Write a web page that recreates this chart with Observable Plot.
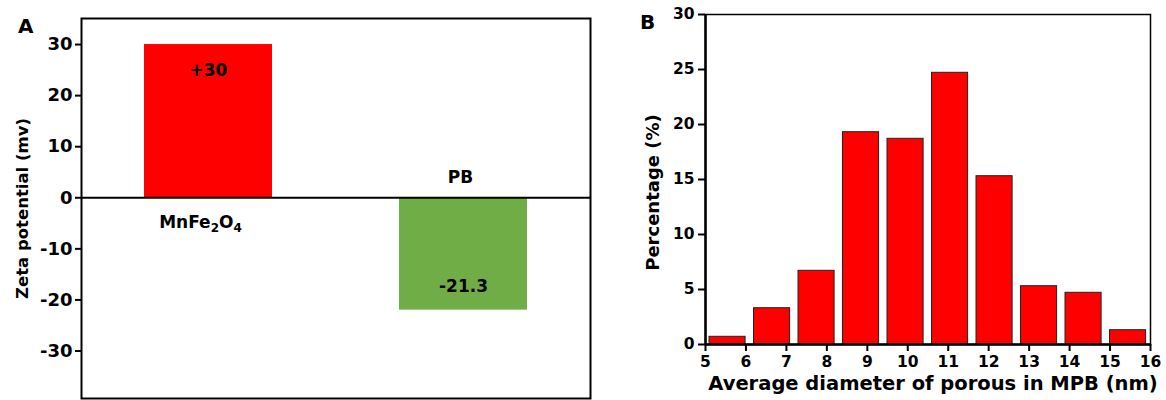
<!DOCTYPE html>
<html>
<head>
<meta charset="utf-8">
<script src="https://cdn.jsdelivr.net/npm/d3@7"></script>
<script src="https://cdn.jsdelivr.net/npm/@observablehq/plot@0.6"></script>
<style>
  body { margin: 0; background: #fff; }
  #wrap { position: relative; width: 1166px; height: 400px; overflow: hidden; font-family: "DejaVu Sans", sans-serif; }
  #wrap svg { position: absolute; top: 0; }
  .panel-letter { position: absolute; font-family: "DejaVu Sans", sans-serif; font-weight: bold; font-size: 20px; line-height: 1; }
</style>
</head>
<body>
<div id="wrap">
  <div class="panel-letter" style="left:18px; top:16px;">A</div>
  <div class="panel-letter" style="left:640px; top:12px;">B</div>
</div>
<script>
// Panel A: zeta potential
const zetaNames = ["MnFe2O4", "PB"];
const zetaValues = [30, -22];
const zetaLabels = ["+30", "-21.3"];
const zetaColors = ["#ff0000", "#70ad47"];
const zetaTicks = [-30, -20, -10, 0, 10, 20, 30];

// Panel B: pore diameter distribution
const binEdges = [5, 6.1, 7.2, 8.3, 9.4, 10.5, 11.6, 12.7, 13.8, 14.9, 16];
const percentages = [0.7, 3.3, 6.7, 19.3, 18.7, 24.7, 15.3, 5.3, 4.7, 1.3];
const diameterTicks = [5, 6, 7, 8, 9, 10, 11, 12, 13, 14, 15, 16];
const percentTicks = [0, 5, 10, 15, 20, 25, 30];

const zetaData = zetaNames.map((name, i) => ({name, value: zetaValues[i], label: zetaLabels[i]}));
const binData = percentages.map((pct, i) => ({lo: binEdges[i], hi: binEdges[i + 1], pct}));

const font = {fontFamily: "DejaVu Sans", fontWeight: "bold", background: "transparent", color: "#000"};

const plotA = Plot.plot({
  width: 600, height: 400,
  marginLeft: 81, marginRight: 10, marginTop: 18, marginBottom: 2,
  style: font,
  x: {domain: zetaNames, paddingInner: 0.5, paddingOuter: 0.246, axis: null},
  y: {domain: [-39.3, 35.1], axis: null},
  color: {domain: zetaNames, range: zetaColors},
  marks: [
    Plot.barY(zetaData, {x: "name", y: "value", fill: "name"}),
    Plot.ruleY([0], {stroke: "#000", strokeWidth: 2}),
    Plot.frame({stroke: "#000", strokeWidth: 2}),
    Plot.axisY(zetaTicks, {anchor: "left", tickSize: 6, tickPadding: 3, strokeWidth: 2, fontSize: 18, label: null, tickFormat: d => String(d)}),
    Plot.text(zetaData.filter(d => d.value > 0), {x: "name", y: "value", text: "label", dy: 26, fontSize: 17}),
    Plot.text(zetaData.filter(d => d.value < 0), {x: "name", y: "value", text: "label", dy: -24, fontSize: 17}),
    Plot.text(zetaData.filter(d => d.value > 0), {x: "name", y: () => 0, text: "name", dy: 25, dx: -8, fontSize: 17}),
    Plot.text(zetaData.filter(d => d.value < 0), {x: "name", y: () => 0, text: "name", dy: -20, dx: -3, fontSize: 17}),
    Plot.text(["Zeta potential (mv)"], {frameAnchor: "left", textAnchor: "middle", rotate: -90, dx: -59, fontSize: 16.5})
  ]
});

const plotB = Plot.plot({
  width: 566, height: 400,
  marginLeft: 105, marginRight: 16, marginTop: 14, marginBottom: 56,
  style: font,
  x: {domain: [5, 16], axis: null},
  y: {domain: [0, 30], axis: null},
  marks: [
    Plot.rectY(binData, {x1: "lo", x2: "hi", y: "pct", fill: "#ff0000", stroke: "#222", strokeWidth: 1, insetLeft: 4, insetRight: 4.4}),
    Plot.frame({stroke: "#000", strokeWidth: 1.5}),
    Plot.ruleX([5], {stroke: "#000", strokeWidth: 2.5}),
    Plot.ruleY([0], {stroke: "#000", strokeWidth: 2.5}),
    Plot.axisX(diameterTicks, {anchor: "bottom", tickSize: 7, tickPadding: 4, strokeWidth: 2, fontSize: 15.5, label: null, tickFormat: d => String(d)}),
    Plot.axisY(percentTicks, {anchor: "left", tickSize: 7, tickPadding: 4, strokeWidth: 2, fontSize: 15.5, label: null, tickFormat: d => String(d)}),
    Plot.text(["Percentage (%)"], {frameAnchor: "left", textAnchor: "middle", rotate: -90, dx: -52, dy: 13, fontSize: 18}),
    Plot.text(["Average diameter of porous in MPB (nm)"], {frameAnchor: "bottom", dx: 5, dy: 45, fontSize: 19.5})
  ]
});

// Render chemical subscripts (MnFe2O4) with real tspans
plotA.querySelectorAll("text").forEach(t => {
  if (t.textContent === "MnFe2O4") {
    t.textContent = "";
    const parts = [["MnFe", 0, null], ["2", 4, 12], ["O", -4, null], ["4", 4, 12]];
    parts.forEach(([s, dy, fs]) => {
      const ts = document.createElementNS("http://www.w3.org/2000/svg", "tspan");
      ts.textContent = s;
      if (dy) ts.setAttribute("dy", dy);
      if (fs) ts.setAttribute("font-size", fs);
      t.appendChild(ts);
    });
  }
});

plotA.style.left = "0px";
plotB.style.left = "600px";
const wrap = document.getElementById("wrap");
wrap.insertBefore(plotA, wrap.firstChild);
wrap.insertBefore(plotB, wrap.firstChild);
</script>
</body>
</html>
